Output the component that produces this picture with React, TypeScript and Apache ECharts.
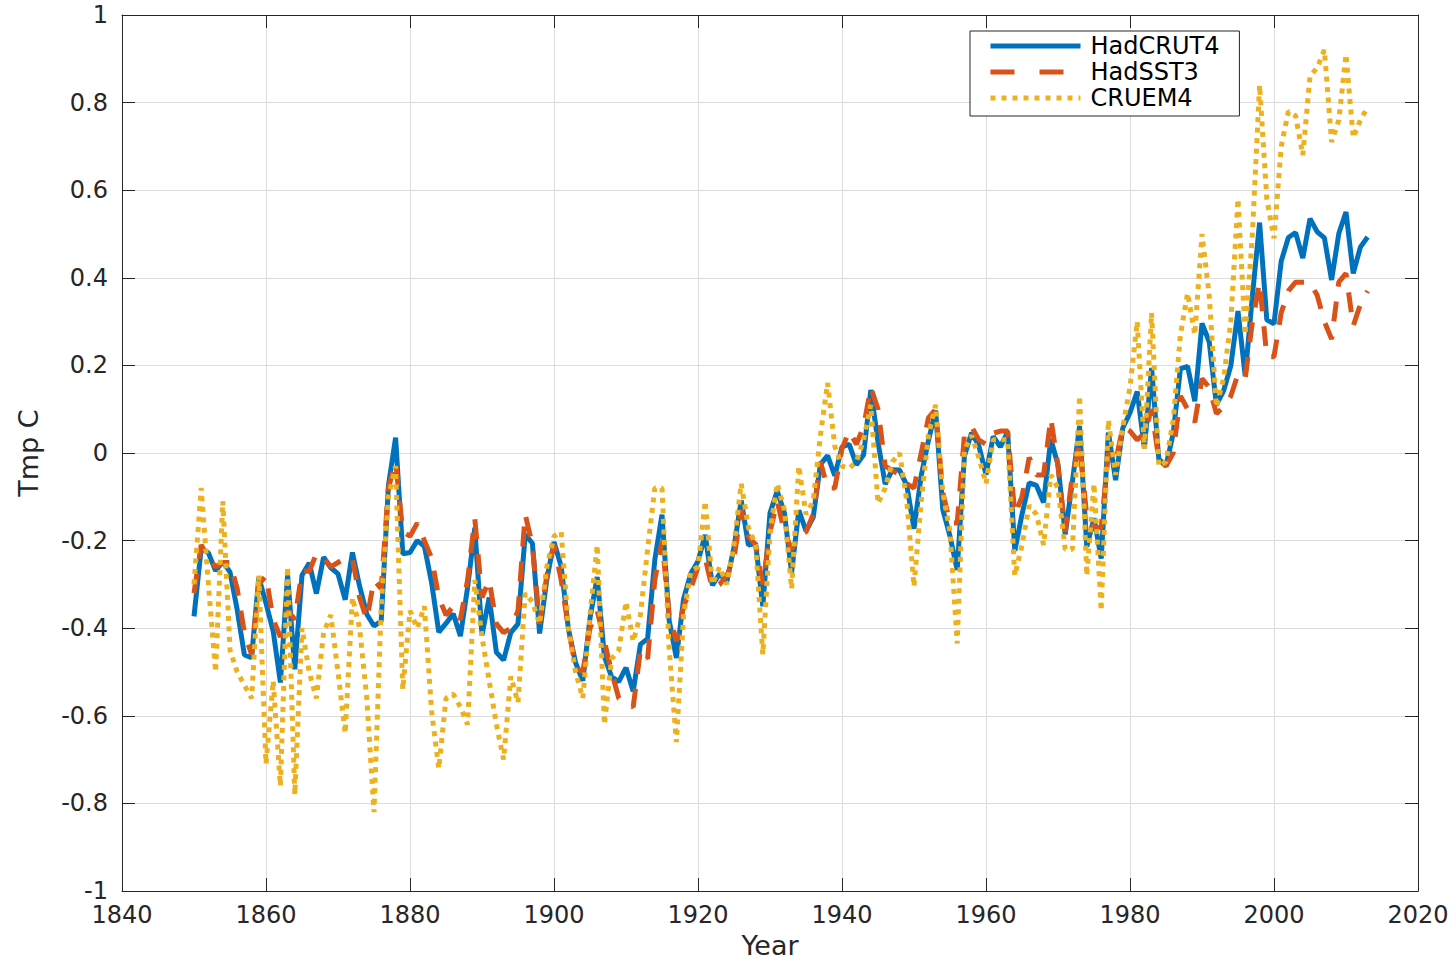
import React, { useEffect, useRef } from "react";
import * as echarts from "echarts";

const START_YEAR = 1850;

// HadCRUT4 annual anomaly (deg C), 1850-2013
const hadcrut4 = [
  -0.373, -0.218, -0.228, -0.269, -0.248, -0.272, -0.358, -0.461, -0.467, -0.284,
  -0.343, -0.407, -0.524, -0.278, -0.494, -0.279, -0.251, -0.321, -0.238, -0.262,
  -0.276, -0.335, -0.227, -0.304, -0.368, -0.395, -0.384, -0.075, 0.035, -0.230,
  -0.227, -0.200, -0.213, -0.296, -0.409, -0.389, -0.367, -0.418, -0.307, -0.171,
  -0.416, -0.330, -0.455, -0.473, -0.410, -0.390, -0.186, -0.206, -0.412, -0.289,
  -0.203, -0.259, -0.402, -0.479, -0.520, -0.377, -0.283, -0.465, -0.511, -0.522,
  -0.490, -0.544, -0.437, -0.424, -0.244, -0.141, -0.383, -0.468, -0.333, -0.275,
  -0.247, -0.187, -0.302, -0.276, -0.294, -0.215, -0.108, -0.210, -0.206, -0.350,
  -0.137, -0.087, -0.137, -0.273, -0.131, -0.178, -0.147, -0.026, -0.006, -0.052,
  0.014, 0.020, -0.027, -0.004, 0.144, 0.025, -0.071, -0.038, -0.039, -0.074,
  -0.173, -0.052, 0.028, 0.097, -0.129, -0.190, -0.267, -0.007, 0.046, 0.017,
  -0.049, 0.038, 0.014, 0.048, -0.223, -0.140, -0.068, -0.074, -0.113, 0.032,
  -0.027, -0.186, -0.065, 0.062, -0.214, -0.149, -0.241, 0.047, -0.062, 0.057,
  0.092, 0.140, 0.011, 0.194, -0.014, -0.030, 0.045, 0.192, 0.198, 0.118,
  0.296, 0.254, 0.110, 0.142, 0.199, 0.324, 0.176, 0.359, 0.526, 0.304,
  0.295, 0.438, 0.492, 0.503, 0.445, 0.535, 0.505, 0.491, 0.395, 0.501,
  0.550, 0.410, 0.470, 0.493,
];

// HadSST3 annual anomaly (deg C), 1850-2013
const hadsst3 = [
  -0.32, -0.21, -0.24, -0.26, -0.25, -0.25, -0.31, -0.41, -0.46, -0.30,
  -0.28, -0.38, -0.42, -0.36, -0.38, -0.27, -0.27, -0.23, -0.24, -0.26,
  -0.25, -0.24, -0.24, -0.33, -0.38, -0.29, -0.31, -0.08, -0.02, -0.18,
  -0.19, -0.16, -0.20, -0.24, -0.33, -0.37, -0.35, -0.38, -0.29, -0.15,
  -0.33, -0.29, -0.39, -0.41, -0.40, -0.36, -0.14, -0.21, -0.39, -0.28,
  -0.21, -0.29, -0.40, -0.49, -0.50, -0.40, -0.36, -0.43, -0.50, -0.56,
  -0.57, -0.58, -0.45, -0.47, -0.29, -0.20, -0.37, -0.43, -0.35, -0.31,
  -0.26, -0.24, -0.31, -0.30, -0.28, -0.24, -0.13, -0.19, -0.21, -0.30,
  -0.18, -0.11, -0.18, -0.22, -0.19, -0.18, -0.14, -0.02, -0.08, -0.08,
  0.01, 0.05, 0.02, 0.06, 0.15, 0.10, -0.03, -0.04, -0.05, -0.07,
  -0.08, 0.00, 0.08, 0.10, -0.09, -0.16, -0.16, 0.04, 0.06, 0.03,
  0.02, 0.045, 0.05, 0.05, -0.14, -0.10, -0.01, -0.05, -0.05, 0.08,
  -0.03, -0.18, -0.05, 0.02, -0.145, -0.17, -0.17, 0.00, -0.02, 0.06,
  0.05, 0.03, 0.045, 0.10, -0.015, -0.03, 0.00, 0.13, 0.10, 0.07,
  0.17, 0.15, 0.09, 0.105, 0.13, 0.18, 0.17, 0.30, 0.39, 0.22,
  0.22, 0.32, 0.37, 0.39, 0.39, 0.39, 0.36, 0.30, 0.26, 0.39,
  0.41, 0.29, 0.34, 0.37,
];

// CRUTEM4 annual anomaly (deg C), 1850-2013
const crutem4 = [
  -0.30, -0.08, -0.30, -0.50, -0.11, -0.45, -0.50, -0.53, -0.56, -0.28,
  -0.71, -0.52, -0.76, -0.26, -0.78, -0.40, -0.50, -0.56, -0.41, -0.37,
  -0.50, -0.64, -0.33, -0.40, -0.56, -0.82, -0.35, -0.10, -0.03, -0.54,
  -0.36, -0.40, -0.35, -0.59, -0.72, -0.56, -0.55, -0.58, -0.62, -0.29,
  -0.42, -0.52, -0.62, -0.70, -0.51, -0.57, -0.32, -0.34, -0.39, -0.26,
  -0.19, -0.18, -0.40, -0.50, -0.56, -0.37, -0.21, -0.62, -0.47, -0.45,
  -0.34, -0.43, -0.37, -0.22, -0.08, -0.08, -0.45, -0.66, -0.37, -0.27,
  -0.26, -0.11, -0.30, -0.26, -0.30, -0.21, -0.07, -0.17, -0.21, -0.46,
  -0.18, -0.07, -0.13, -0.31, -0.03, -0.14, -0.11, 0.04, 0.16, 0.015,
  -0.03, -0.035, -0.02, 0.03, 0.11, -0.115, -0.08, -0.02, 0.00, -0.11,
  -0.305, -0.11, 0.04, 0.11, -0.09, -0.18, -0.435, 0.007, 0.04, -0.01,
  -0.07, 0.03, 0.03, 0.03, -0.28, -0.21, -0.12, -0.14, -0.21, -0.05,
  -0.08, -0.22, -0.22, 0.13, -0.28, -0.07, -0.36, 0.075, -0.05, 0.06,
  0.15, 0.30, 0.01, 0.32, -0.03, -0.02, 0.075, 0.27, 0.365, 0.27,
  0.50, 0.36, 0.105, 0.17, 0.30, 0.58, 0.27, 0.50, 0.84, 0.58,
  0.49, 0.70, 0.78, 0.77, 0.68, 0.86, 0.88, 0.92, 0.71, 0.76,
  0.91, 0.72, 0.76, 0.79,
];

const seriesNames = ["HadCRUT4", "HadSST3", "CRUEM4"];
const X_MIN = 1840;
const X_MAX = 2020;
const X_STEP = 20;
const Y_MIN = -1;
const Y_MAX = 1;
const Y_STEP = 0.2;

const FONT = "DejaVu Sans";
const AXIS_COLOR = "#262626";
const GRID_COLOR = "#dcdcdc";

function toPairs(values: number[]) {
  return values.map((v, i) => [START_YEAR + i, v]);
}

export default function App() {
  const ref = useRef<HTMLDivElement>(null);

  useEffect(() => {
    document.body.style.margin = "0";
    const chart = echarts.init(ref.current!, undefined, { renderer: "svg" });

    const axisLine = { show: true, onZero: false, lineStyle: { color: AXIS_COLOR, width: 1 } };
    const axisTick = { show: true, inside: true, length: 13, lineStyle: { color: AXIS_COLOR, width: 1 } };

    chart.setOption({
      animation: false,
      backgroundColor: "#ffffff",
      grid: { left: 122, top: 15, right: 38, bottom: 69, containLabel: false, outerBoundsMode: "none" },
      xAxis: [
        {
          type: "value",
          min: X_MIN,
          max: X_MAX,
          interval: X_STEP,
          position: "bottom",
          name: "Year",
          nameLocation: "middle",
          nameGap: 41,
          nameTextStyle: { fontFamily: FONT, fontSize: 27, color: AXIS_COLOR },
          axisLine,
          axisTick,
          axisLabel: {
            color: AXIS_COLOR,
            fontFamily: FONT,
            fontSize: 24,
            margin: 12,
            formatter: (v: number) => String(Math.round(v)),
          },
          splitLine: { show: true, lineStyle: { color: GRID_COLOR, width: 1 } },
        },
        {
          type: "value",
          min: X_MIN,
          max: X_MAX,
          interval: X_STEP,
          position: "top",
          axisLine,
          axisTick,
          axisLabel: { show: false },
          splitLine: { show: false },
        },
      ],
      yAxis: [
        {
          type: "value",
          min: Y_MIN,
          max: Y_MAX,
          interval: Y_STEP,
          position: "left",
          name: "Tmp C",
          nameLocation: "middle",
          nameGap: 80,
          nameTextStyle: { fontFamily: FONT, fontSize: 27, color: AXIS_COLOR },
          axisLine,
          axisTick,
          axisLabel: {
            color: AXIS_COLOR,
            fontFamily: FONT,
            fontSize: 24,
            margin: 14,
            formatter: (v: number) => String(Math.round(v * 10) / 10),
          },
          splitLine: { show: true, lineStyle: { color: GRID_COLOR, width: 1 } },
        },
        {
          type: "value",
          min: Y_MIN,
          max: Y_MAX,
          interval: Y_STEP,
          position: "right",
          axisLine,
          axisTick,
          axisLabel: { show: false },
          splitLine: { show: false },
        },
      ],
      legend: {
        orient: "vertical",
        left: 970,
        top: 31,
        itemWidth: 90,
        itemHeight: 14,
        itemGap: 2,
        padding: [3, 20, 6, 18],
        borderColor: AXIS_COLOR,
        borderWidth: 1,
        backgroundColor: "#ffffff",
        itemStyle: { opacity: 0 },
        lineStyle: { width: 5, cap: "butt" },
        textStyle: { fontFamily: FONT, fontSize: 24, color: "#000000", padding: [0, 0, 0, 5] },
        data: [
          { name: seriesNames[0] },
          { name: seriesNames[1], lineStyle: { type: [24, 25] } },
          { name: seriesNames[2], lineStyle: { type: [5, 6] } },
        ],
      },
      series: [
        {
          name: seriesNames[0],
          type: "line",
          data: toPairs(hadcrut4),
          symbol: "none",
          showSymbol: false,
          itemStyle: { color: "#0072BD" },
          lineStyle: { color: "#0072BD", width: 5 },
        },
        {
          name: seriesNames[1],
          type: "line",
          data: toPairs(hadsst3),
          symbol: "none",
          showSymbol: false,
          itemStyle: { color: "#D95319" },
          lineStyle: { color: "#D95319", width: 5, type: [20, 15], cap: "butt" },
        },
        {
          name: seriesNames[2],
          type: "line",
          data: toPairs(crutem4),
          symbol: "none",
          showSymbol: false,
          itemStyle: { color: "#EDB120" },
          lineStyle: { color: "#EDB120", width: 5, type: [5, 5.5], cap: "butt" },
        },
      ],
    });

    return () => chart.dispose();
  }, []);

  return <div ref={ref} style={{ width: 1456, height: 960 }} />;
}
